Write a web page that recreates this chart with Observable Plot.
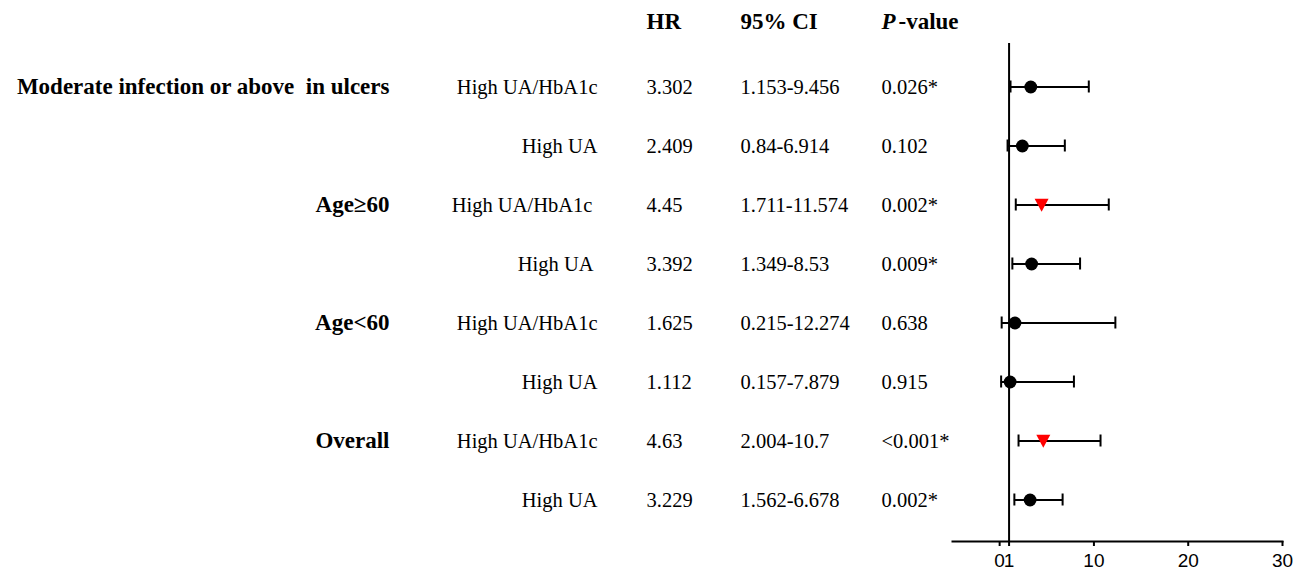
<!DOCTYPE html>
<html>
<head>
<meta charset="utf-8">
<script src="https://cdn.jsdelivr.net/npm/d3@7"></script>
<script src="https://cdn.jsdelivr.net/npm/@observablehq/plot@0.6"></script>
<style>
  html, body { margin: 0; padding: 0; background: #fff; }
  #chart svg { display: block; background: #fff; color: #000; }
  #chart svg text { white-space: pre; }
</style>
</head>
<body>
<div id="chart"></div>
<script>
// Subgroup hazard ratios for high UA/HbA1c and high UA
const groupLabels = ["Moderate infection or above  in ulcers", "", "Age≥60", "", "Age<60", "", "Overall", ""];
const subgroupLabels = ["High UA/HbA1c", "High UA", "High UA/HbA1c ", "High UA ", "High UA/HbA1c", "High UA", "High UA/HbA1c", "High UA"];
const hr = [3.302, 2.409, 4.45, 3.392, 1.625, 1.112, 4.63, 3.229];
const ciLow = [1.153, 0.84, 1.711, 1.349, 0.215, 0.157, 2.004, 1.562];
const ciHigh = [9.456, 6.914, 11.574, 8.53, 12.274, 7.879, 10.7, 6.678];
const pValues = ["0.026*", "0.102", "0.002*", "0.009*", "0.638", "0.915", "<0.001*", "0.002*"];
const highlighted = [false, false, true, false, false, false, true, false];
const xTicks = [0, 1, 10, 20, 30];

const rows = hr.map((v, i) => ({
  key: "row" + i,
  group: groupLabels[i],
  subgroup: subgroupLabels[i],
  hr: v,
  hrText: String(v),
  lo: ciLow[i],
  hi: ciHigh[i],
  ciText: `${ciLow[i]}-${ciHigh[i]}`,
  p: pValues[i],
  highlight: highlighted[i]
}));

const serif = "Liberation Serif, Times New Roman, serif";
const sans = "Liberation Sans, Arial, sans-serif";

// downward-pointing triangle centred on its bounding box
const triangleDown = {
  draw(context, size) {
    const r = Math.sqrt(size / Math.PI);
    context.moveTo(-r, -0.9 * r);
    context.lineTo(r, -0.9 * r);
    context.lineTo(0, 0.95 * r);
    context.closePath();
  }
};

const ML = 952;
const textCols = { group: 389, subgroup: 597, hr: 646, ci: 740, p: 881, pRest: 898 };
const header = { frameAnchor: "top-left", lineAnchor: "middle", dy: -22, textAnchor: "start", fontWeight: "bold", fontSize: 23, fontFamily: serif, fill: "#000" };

const chart = Plot.plot({
  width: 1307,
  height: 574,
  marginLeft: ML,
  marginRight: 25,
  marginTop: 43,
  marginBottom: 33,
  style: { background: "#fff", color: "#000" },
  x: { domain: [-5, 30] },
  y: { type: "band", domain: rows.map(d => d.key), padding: 0, insetTop: 11, insetBottom: 9, axis: null },
  marks: [
    Plot.frame({ anchor: "bottom", strokeWidth: 2, stroke: "#000" }),
    Plot.axisX({ ticks: xTicks, tickSize: 5, tickPadding: 7, strokeWidth: 2, fontSize: 19, fontFamily: sans, label: null, fill: "#000" }),
    Plot.ruleX([1], { strokeWidth: 2, stroke: "#000" }),
    // confidence intervals with end caps
    Plot.ruleY(rows, { y: "key", x1: "lo", x2: "hi", strokeWidth: 2, stroke: "#000" }),
    Plot.tickX(rows, { x: "lo", y: "key", insetTop: 23.5, insetBottom: 23.5, strokeWidth: 2, stroke: "#000" }),
    Plot.tickX(rows, { x: "hi", y: "key", insetTop: 23.5, insetBottom: 23.5, strokeWidth: 2, stroke: "#000" }),
    // point estimates
    Plot.dot(rows.filter(d => !d.highlight), { x: "hr", y: "key", r: 6.4, fill: "#000", stroke: "none" }),
    Plot.dot(rows.filter(d => d.highlight), { x: "hr", y: "key", r: 7, symbol: triangleDown, fill: "#ff0000", stroke: "none" }),
    // table columns
    Plot.text(rows.filter(d => d.group), { y: "key", text: "group", frameAnchor: "left", dx: textCols.group - ML, textAnchor: "end", fontWeight: "bold", fontSize: 23, fontFamily: serif, fill: "#000" }),
    Plot.text(rows, { y: "key", text: "subgroup", frameAnchor: "left", dx: textCols.subgroup - ML, textAnchor: "end", fontSize: 20.5, fontFamily: serif, fill: "#000" }),
    Plot.text(rows, { y: "key", text: "hrText", frameAnchor: "left", dx: textCols.hr - ML, textAnchor: "start", fontSize: 20.5, fontFamily: serif, fill: "#000" }),
    Plot.text(rows, { y: "key", text: "ciText", frameAnchor: "left", dx: textCols.ci - ML, textAnchor: "start", fontSize: 20.5, fontFamily: serif, fill: "#000" }),
    Plot.text(rows, { y: "key", text: "p", frameAnchor: "left", dx: textCols.p - ML, textAnchor: "start", fontSize: 20.5, fontFamily: serif, fill: "#000" }),
    // column headers
    Plot.text(["HR"], { ...header, text: d => d, dx: textCols.hr - ML }),
    Plot.text(["95% CI"], { ...header, text: d => d, dx: textCols.ci - ML }),
    Plot.text(["P"], { ...header, text: d => d, dx: textCols.p - ML, fontStyle: "italic" }),
    Plot.text(["-value"], { ...header, text: d => d, dx: textCols.pRest - ML })
  ]
});

document.getElementById("chart").appendChild(chart);
</script>
</body>
</html>
